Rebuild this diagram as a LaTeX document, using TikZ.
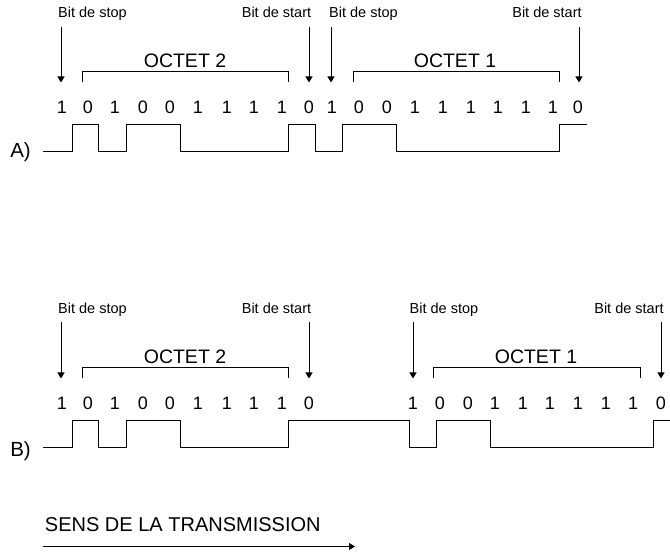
\documentclass[tikz,border=0pt]{standalone}
\usepackage{fontspec}
\setmainfont{Liberation Sans}
\usetikzlibrary{arrows.meta}
\begin{document}
\begin{tikzpicture}[x=1pt, y=-1pt,
  every node/.style={inner sep=0pt, outer sep=0pt},
  bitlabel/.style={anchor=base, font=\fontsize{14.5}{16}\selectfont},
  octetlabel/.style={anchor=base, font=\fontsize{19.5}{22}\selectfont},
  digit/.style={anchor=base, font=\fontsize{18}{20}\selectfont},
  rowlabel/.style={anchor=base, font=\fontsize{20.5}{22}\selectfont},
  pointer/.style={line width=1pt, -{Triangle[length=6pt,width=7pt]}},
  bracket/.style={line width=1pt},
  signal/.style={line width=1pt},
]
\useasboundingbox (0,0) rectangle (670,553);

% ---------- Line A: two characters sent back to back ----------
\node[bitlabel] (a-stop1)  at (92.5,17.5)  {Bit de stop};
\node[bitlabel] (a-start1) at (276.5,17.5) {Bit de start};
\node[bitlabel] (a-stop2)  at (363.5,17.5) {Bit de stop};
\node[bitlabel] (a-start2) at (547,17.5)   {Bit de start};

\foreach \x [count=\i] in {61,309,331,579} {
  \coordinate (a-ptop\i) at (\x,27);
  \coordinate (a-ptip\i) at (\x,82.5);
  \draw[pointer] (a-ptop\i) -- (a-ptip\i);
}

\node[octetlabel] (a-oct2) at (185,68) {OCTET 2};
\node[octetlabel] (a-oct1) at (455,68) {OCTET 1};
\coordinate (a-b2l) at (82,72);  \coordinate (a-b2r) at (288,72);
\coordinate (a-b1l) at (353,72); \coordinate (a-b1r) at (559,72);
\draw[bracket] ([yshift=-10.5pt]a-b2l) -- (a-b2l) -- (a-b2r) -- ([yshift=-10.5pt]a-b2r);
\draw[bracket] ([yshift=-10.5pt]a-b1l) -- (a-b1l) -- (a-b1r) -- ([yshift=-10.5pt]a-b1r);

\foreach \x/\b [count=\i] in {62/1,88/0,115/1,143/0,170/0,198/1,227/1,254/1,282/1,309/0,
                              332/1,359/0,387/0,415/1,443/1,471/1,498/1,526/1,553/1,578/0}
  \node[digit] (a-bit\i) at (\x,114) {\b};

\node[rowlabel] (a-row) at (20.5,158) {A)};
\draw[signal] (43,152) -- (72,152) -- (72,125) -- (98,125) -- (98,152)
  -- (126,152) -- (126,125) -- (180,125) -- (180,152) -- (288,152)
  -- (288,125) -- (315,125) -- (315,152) -- (342,152) -- (342,125)
  -- (396,125) -- (396,152) -- (559,152) -- (559,125) -- (587,125);

% ---------- Line B: idle gap between the two characters ----------
\node[bitlabel] (b-stop1)  at (92.5,313.5) {Bit de stop};
\node[bitlabel] (b-start1) at (276.5,313.5) {Bit de start};
\node[bitlabel] (b-stop2)  at (444,313.5)  {Bit de stop};
\node[bitlabel] (b-start2) at (629,313.5)  {Bit de start};

\foreach \x [count=\i] in {61,309,413,661} {
  \coordinate (b-ptop\i) at (\x,322);
  \coordinate (b-ptip\i) at (\x,378.5);
  \draw[pointer] (b-ptop\i) -- (b-ptip\i);
}

\node[octetlabel] (b-oct2) at (185,364) {OCTET 2};
\node[octetlabel] (b-oct1) at (536,364) {OCTET 1};
\coordinate (b-b2l) at (82,368);  \coordinate (b-b2r) at (288,368);
\coordinate (b-b1l) at (433,368); \coordinate (b-b1r) at (640,368);
\draw[bracket] ([yshift=-10.5pt]b-b2l) -- (b-b2l) -- (b-b2r) -- ([yshift=-10.5pt]b-b2r);
\draw[bracket] ([yshift=-10.5pt]b-b1l) -- (b-b1l) -- (b-b1r) -- ([yshift=-10.5pt]b-b1r);

\foreach \x/\b [count=\i] in {62/1,88/0,115/1,143/0,170/0,198/1,227/1,254/1,282/1,309/0,
                              413/1,440/0,468/0,495/1,523/1,550/1,578/1,606/1,633/1,661/0}
  \node[digit] (b-bit\i) at (\x,409.5) {\b};

\node[rowlabel] (b-row) at (20.5,456.5) {B)};
\draw[signal] (43,448) -- (72,448) -- (72,421) -- (98,421) -- (98,448)
  -- (126,448) -- (126,421) -- (180,421) -- (180,448) -- (288,448)
  -- (288,421) -- (409,421) -- (409,448) -- (436,448) -- (436,421)
  -- (490,421) -- (490,448) -- (653,448) -- (653,421) -- (670,421);

% ---------- Direction of transmission ----------
\node[anchor=base west, font=\fontsize{20}{22}\selectfont] (sens) at (45,531.5) {SENS DE LA TRANSMISSION};
\coordinate (dir-from) at (43,546.5);
\coordinate (dir-to) at (355,546.5);
\draw[pointer] (dir-from) -- (dir-to);
\end{tikzpicture}
\end{document}
